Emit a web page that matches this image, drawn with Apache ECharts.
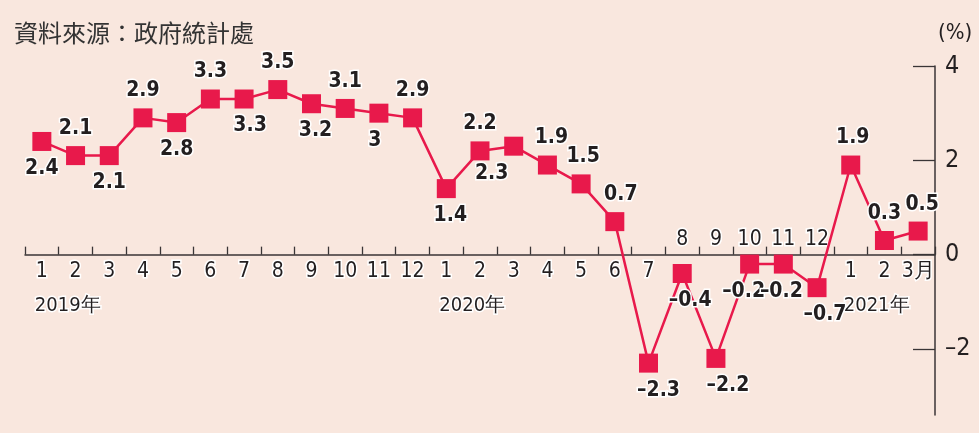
<!DOCTYPE html>
<html style="height: 100%">
<head>
    <meta charset="utf-8">
</head>
<body style="height: 100%; margin: 0; background-color: #f9e7de;">
<div id="container" style="width: 979px; height: 433px"></div>
<script type="text/javascript" src="https://cdn.jsdelivr.net/npm/echarts@6/dist/echarts.min.js"></script>
<script type="text/javascript">
    // months Jan 2019 .. Mar 2021
    var months = ['1','2','3','4','5','6','7','8','9','10','11','12',
                  '1','2','3','4','5','6','7','8','9','10','11','12',
                  '1','2','3月'];
    var values = [2.4, 2.1, 2.1, 2.9, 2.8, 3.3, 3.3, 3.5, 3.2, 3.1, 3, 2.9,
                  1.4, 2.2, 2.3, 1.9, 1.5, 0.7, -2.3, -0.4, -2.2, -0.2, -0.2, -0.7,
                  1.9, 0.3, 0.5];
    // where each value label sits
    var labelPos = ['bottom','top','bottom','top','bottom','top','bottom','top','bottom','top','bottom','top',
                    'bottom','top','bottom','top','top','top','bottom','bottom','bottom','bottom','bottom','bottom',
                    'top','top','top'];
    var labelShift = [0,0,0,0,0,0,6,0,4,0,-4,0,
                      4,0,-22,4,2,6,10,8,12,-6,-2,8,
                      2,0,4];
    // month labels drawn above the axis line (Aug - Dec 2020)
    var monthsAbove = [19, 20, 21, 22, 23];
    var years = [{idx: 0, text: '2019年'}, {idx: 12, text: '2020年'}, {idx: 24, text: '2021年'}];
    var yMin = -3.4, yMax = 4;
    var yTicks = [-2, 0, 2, 4];

    var numFont = "'DejaVu Sans Condensed', 'Roboto', sans-serif";
    var red = '#e8194b';
    var ink = '#231f20';
    var axisCol = '#3a3536';

    var W = 979, H = 433;
    var gTop = 66, gBottom = 18, gLeft = 25, gRight = 44;
    // the month axis sits on the zero line: give it its own grid ending there
    var zeroY = gTop + (H - gTop - gBottom) * yMax / (yMax - yMin);

    var dom = document.getElementById('container');
    var myChart = echarts.init(dom);

    function dash(v) {
        return v < 0 ? '\u2013' + Math.abs(v) : String(v);
    }

    var seriesData = values.map(function (v, i) {
        return {
            value: v,
            label: {position: labelPos[i], offset: [labelShift[i], 0]}
        };
    });

    var monthLabel = {
        interval: 0,
        fontFamily: numFont,
        fontSize: 21,
        color: ink,
        textBorderColor: '#fff',
        textBorderWidth: 3
    };

    var option = {
        backgroundColor: '#f9e7de',
        animation: false,
        title: {
            text: '資料來源：政府統計處',
            left: 9,
            top: 16,
            textStyle: {
                fontFamily: "'Noto Sans CJK TC', sans-serif",
                fontWeight: 'normal',
                fontSize: 24,
                color: '#333'
            }
        },
        grid: [
            {left: gLeft, right: gRight, top: gTop, bottom: gBottom, outerBoundsMode: 'none'},
            {left: gLeft, right: gRight, top: gTop, bottom: H - zeroY, outerBoundsMode: 'none'}
        ],
        xAxis: [
            {
                gridIndex: 0,
                type: 'category',
                data: months,
                show: false
            },
            {
                gridIndex: 1,
                type: 'category',
                data: months,
                position: 'bottom',
                axisLine: {onZero: false, lineStyle: {color: axisCol, width: 1.5}},
                axisTick: {show: true, inside: true, length: 8, lineStyle: {color: axisCol, width: 1.3}},
                axisLabel: Object.assign({}, monthLabel, {
                    margin: 6,
                    formatter: function (val, idx) {
                        return monthsAbove.indexOf(idx) >= 0 ? '' : val;
                    }
                })
            },
            {
                gridIndex: 1,
                type: 'category',
                data: months,
                position: 'bottom',
                axisLine: {show: false, onZero: false},
                axisTick: {show: false},
                axisLabel: Object.assign({}, monthLabel, {
                    inside: true,
                    margin: 5,
                    formatter: function (val, idx) {
                        return monthsAbove.indexOf(idx) >= 0 ? val : '';
                    }
                })
            }
        ],
        yAxis: [
            {
                gridIndex: 0,
                type: 'value',
                position: 'right',
                min: yMin,
                max: yMax,
                name: '(%)',
                nameGap: 22,
                nameTextStyle: {
                    fontFamily: numFont,
                    fontSize: 22,
                    color: ink,
                    align: 'left',
                    padding: [0, 0, 0, 3]
                },
                splitLine: {show: false},
                axisLine: {show: true, lineStyle: {color: axisCol, width: 1.5}},
                axisTick: {show: true, inside: true, length: 22, customValues: yTicks,
                           lineStyle: {color: axisCol, width: 1.3}},
                axisLabel: {
                    customValues: yTicks,
                    margin: 10,
                    fontFamily: numFont,
                    fontSize: 25,
                    color: ink,
                    formatter: function (v) { return dash(v); }
                }
            },
            {
                gridIndex: 1,
                type: 'value',
                show: false
            }
        ],
        series: [
            {
                type: 'line',
                xAxisIndex: 0,
                yAxisIndex: 0,
                data: seriesData,
                symbol: 'rect',
                symbolSize: 19,
                z: 5,
                itemStyle: {color: red},
                lineStyle: {color: red, width: 2.5},
                label: {
                    show: true,
                    distance: 7,
                    fontFamily: numFont,
                    fontWeight: 'bold',
                    fontSize: 21,
                    color: ink,
                    textBorderColor: '#fff',
                    textBorderWidth: 3,
                    formatter: function (p) { return dash(p.value); }
                }
            }
        ]
    };
    myChart.setOption(option);

    // year captions under the first month of each year
    var yearText = years.map(function (y) {
        var x = myChart.convertToPixel({xAxisIndex: 0}, y.idx);
        return {
            type: 'text',
            x: x - 7,
            y: zeroY + 51,
            style: {
                text: y.text,
                fontFamily: numFont,
                fontSize: 20,
                fill: ink,
                stroke: '#fff',
                lineWidth: 3,
                textVerticalAlign: 'middle'
            }
        };
    });
    myChart.setOption({graphic: yearText});
</script>
</body>
</html>
